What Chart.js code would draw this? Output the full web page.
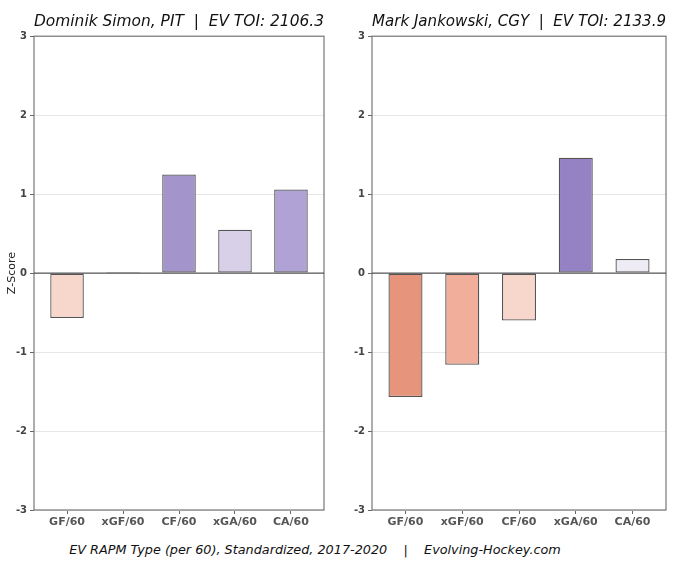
<!DOCTYPE html>
<html>
<head>
<meta charset="utf-8">
<script src="https://cdn.jsdelivr.net/npm/chart.js@4.4.0/dist/chart.umd.min.js"></script>
<style>
  body { margin: 0; background: #fff; width: 680px; height: 577px; position: relative; overflow: hidden; }
  .box { position: absolute; top: 0; width: 340px; height: 530px; }
  #footer { position: absolute; top: 542px; left: 0; width: 630px; text-align: center;
            font-family: 'DejaVu Sans', sans-serif; font-style: italic; font-size: 12.8px; color: #111; white-space: pre; }
</style>
</head>
<body>
<div class="box" style="left:0"><canvas id="left"></canvas></div>
<div class="box" style="left:340px"><canvas id="right"></canvas></div>
<div id="footer">EV RAPM Type (per 60), Standardized, 2017-2020    |    Evolving-Hockey.com</div>
<script>
// Data
const categories = ['GF/60', 'xGF/60', 'CF/60', 'xGA/60', 'CA/60'];
const simonValues = [-0.57, 0.015, 1.25, 0.55, 1.06];
const jankowskiValues = [-1.57, -1.16, -0.60, 1.46, 0.18];
const simonColors = ['#f7d6cc', '#f4f2f7', '#a494cc', '#d7d0e8', '#b1a2d6'];
const jankowskiColors = ['#e6957c', '#f0ae9b', '#f7d6cc', '#9482c4', '#eeebf4'];
const yTicks = [-3, -2, -1, 0, 1, 2, 3];

// Frame around the plot area
const framePlugin = {
    id: 'frame',
    afterDraw(chart) {
        const a = chart.chartArea;
        const ctx = chart.ctx;
        ctx.save();
        ctx.strokeStyle = '#777';
        ctx.lineWidth = 1.2;
        ctx.strokeRect(a.left, a.top, a.right - a.left, a.bottom - a.top);
        // zero line
        const y0 = chart.scales.y.getPixelForValue(0);
        ctx.strokeStyle = '#333';
        ctx.lineWidth = 1;
        ctx.beginPath();
        ctx.moveTo(a.left, y0);
        ctx.lineTo(a.right, y0);
        ctx.stroke();
        ctx.restore();
    }
};

function makeChart(id, title, values, colors, showYTitle, yWidth, padRight) {
    const ctx = document.getElementById(id).getContext('2d');
    const points = values.map((v, i) => ({ x: i, y: v }));
    return new Chart(ctx, {
        type: 'bar',
        data: {
            datasets: [{
                data: points,
                backgroundColor: colors,
                borderColor: '#555',
                borderWidth: 1.3,
                borderSkipped: false,
                barPercentage: 0.6,
                categoryPercentage: 1.0
            }]
        },
        options: {
            responsive: false,
            animation: false,
            devicePixelRatio: 1,
            layout: { padding: { left: 0, right: padRight, top: 0, bottom: 0 } },
            plugins: {
                legend: { display: false },
                tooltip: { enabled: false },
                title: {
                    display: true,
                    text: title,
                    fullSize: false,
                    color: '#111',
                    font: { family: 'DejaVu Sans', size: 16, style: 'italic', weight: 'normal' },
                    padding: { top: 12, bottom: 5 }
                }
            },
            scales: {
                x: {
                    type: 'linear',
                    min: -0.59,
                    max: 4.59,
                    offset: false,
                    afterBuildTicks(scale) { scale.ticks = categories.map((c, i) => ({ value: i })); },
                    grid: { offset: false, drawOnChartArea: false, tickLength: 4, tickColor: '#666' },
                    border: { display: false },
                    ticks: {
                        color: '#555',
                        font: { family: 'DejaVu Sans', size: 11, weight: 'bold' },
                        padding: 2,
                        callback: (value) => categories[value]
                    },
                    afterFit(scale) { scale.height = 20; }
                },
                y: {
                    min: -3,
                    max: 3,
                    afterBuildTicks(scale) { scale.ticks = yTicks.map(v => ({ value: v })); },
                    grid: { color: '#e6e6e6', tickLength: 4, tickColor: '#666' },
                    border: { display: false },
                    ticks: { color: '#444', font: { family: 'DejaVu Sans', size: 10, weight: 'bold' }, padding: 3 },
                    title: {
                        display: showYTitle,
                        text: 'Z-Score',
                        color: '#222',
                        font: { family: 'DejaVu Sans', size: 11 },
                        padding: { top: 6, bottom: 2 }
                    },
                    afterFit(scale) { scale.width = yWidth; }
                }
            }
        },
        plugins: [framePlugin]
    });
}

function sizeCanvas(id) {
    const c = document.getElementById(id);
    c.width = 340; c.height = 530;
    c.style.width = '340px'; c.style.height = '530px';
}
sizeCanvas('left');
sizeCanvas('right');

makeChart('left', 'Dominik Simon, PIT  |  EV TOI: 2106.3', simonValues, simonColors, true, 34, 16);
makeChart('right', 'Mark Jankowski, CGY  |  EV TOI: 2133.9', jankowskiValues, jankowskiColors, false, 32, 14);
</script>
</body>
</html>
